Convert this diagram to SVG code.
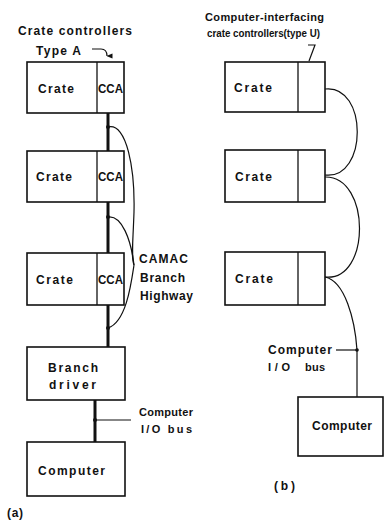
<svg xmlns="http://www.w3.org/2000/svg" width="384" height="521" viewBox="0 0 384 521">
<style>
  .box { fill: none; stroke: #111; stroke-width: 1.6; }
  .div { fill: none; stroke: #111; stroke-width: 1.3; }
  .bus { fill: none; stroke: #111; stroke-width: 3; }
  .wire { fill: none; stroke: #111; stroke-width: 1.2; }
  .dot { fill: #111; }
  text { font-family: "Liberation Sans", Arial, sans-serif; font-size: 12px; font-weight: bold; fill: #111; }
  .sm { font-size: 11px; }
</style>
<defs>
  <marker id="arr" viewBox="0 0 6 6" refX="3" refY="5.5" markerWidth="6" markerHeight="6" orient="auto-start-reverse" markerUnits="userSpaceOnUse">
    <path d="M0.5,0 L3,6 L5.5,0 Z" fill="#111"/>
  </marker>
</defs>
<rect width="384" height="521" fill="#fff"/>

<!-- (a) connectors -->
<g id="connectors-a">
  <line class="bus" x1="108" y1="113" x2="108" y2="151"/>
  <line class="bus" x1="108" y1="202" x2="108" y2="253"/>
  <line class="bus" x1="108" y1="305" x2="108" y2="347"/>
  <line class="bus" x1="95" y1="400" x2="95" y2="442"/>
  <circle class="dot" cx="108" cy="127" r="2"/>
  <circle class="dot" cx="108" cy="217" r="2"/>
  <circle class="dot" cx="108" cy="328" r="2"/>
  <circle class="dot" cx="95" cy="420" r="2"/>
  <path class="wire" d="M108,127 C127,122 135,170 134,212 C133,243 131,257 134,265"/>
  <path class="wire" d="M108,217 C122,215 131,240 134,265"/>
  <path class="wire" d="M134,265 C131,285 126,322 108,328"/>
  <line class="wire" x1="95" y1="420" x2="131" y2="420"/>
  <path class="wire" d="M92,49 L101,49 C105,49 107,52 107,56" marker-end="url(#arr)"/>
</g>

<!-- (a) nodes -->
<g id="crate-a1">
  <rect class="box" x="27" y="62" width="97" height="51"/>
  <line class="div" x1="97" y1="62" x2="97" y2="113"/>
  <text x="38" y="93" textLength="36" lengthAdjust="spacing">Crate</text>
  <text x="98" y="93" textLength="25" lengthAdjust="spacingAndGlyphs">CCA</text>
</g>
<g id="crate-a2">
  <rect class="box" x="27" y="151" width="97" height="51"/>
  <line class="div" x1="97" y1="151" x2="97" y2="202"/>
  <text x="36" y="181" textLength="36" lengthAdjust="spacing">Crate</text>
  <text x="98" y="181" textLength="25" lengthAdjust="spacingAndGlyphs">CCA</text>
</g>
<g id="crate-a3">
  <rect class="box" x="27" y="253" width="97" height="52"/>
  <line class="div" x1="97" y1="253" x2="97" y2="305"/>
  <text x="36" y="284" textLength="37" lengthAdjust="spacing">Crate</text>
  <text x="98" y="284" textLength="25" lengthAdjust="spacingAndGlyphs">CCA</text>
</g>
<g id="branch-driver">
  <rect class="box" x="27" y="347" width="98" height="53"/>
  <text x="48" y="372" textLength="50" lengthAdjust="spacing">Branch</text>
  <text x="49" y="389" textLength="47" lengthAdjust="spacing">driver</text>
</g>
<g id="computer-a">
  <rect class="box" x="27" y="442" width="98" height="54"/>
  <text x="38" y="475" textLength="67" lengthAdjust="spacing">Computer</text>
</g>

<!-- (a) labels -->
<g id="labels-a">
  <text x="18" y="35" textLength="114" lengthAdjust="spacing">Crate controllers</text>
  <text x="36" y="55" textLength="45" lengthAdjust="spacing">Type  A</text>
  <text x="139" y="263" textLength="49" lengthAdjust="spacing">CAMAC</text>
  <text x="140" y="282" textLength="45" lengthAdjust="spacing">Branch</text>
  <text x="140" y="300" textLength="53" lengthAdjust="spacing">Highway</text>
  <text class="sm" x="139" y="416" textLength="54" lengthAdjust="spacing">Computer</text>
  <text class="sm" x="141" y="433" textLength="51" lengthAdjust="spacing">I/O bus</text>
  <text x="7" y="517" textLength="16" lengthAdjust="spacing">(a)</text>
</g>

<!-- (b) connectors -->
<g id="connectors-b">
  <path class="wire" d="M325,89 C368,84 368,180 325,175"/>
  <path class="wire" d="M325,177 C371,176 371,282 325,277"/>
  <path class="wire" d="M325,277 C345,281 355,320 357,350 L357,397"/>
  <line class="wire" x1="336" y1="350" x2="357" y2="350"/>
  <circle class="dot" cx="357" cy="350" r="1.8"/>
  <path class="wire" d="M308,45 L315,45 L309,61"/>
</g>

<!-- (b) nodes -->
<g id="crate-b1">
  <rect class="box" x="225" y="62" width="100" height="50"/>
  <line class="div" x1="298" y1="62" x2="298" y2="112"/>
  <text x="234" y="92" textLength="38" lengthAdjust="spacing">Crate</text>
</g>
<g id="crate-b2">
  <rect class="box" x="225" y="150" width="100" height="52"/>
  <line class="div" x1="298" y1="150" x2="298" y2="202"/>
  <text x="235" y="181" textLength="37" lengthAdjust="spacing">Crate</text>
</g>
<g id="crate-b3">
  <rect class="box" x="225" y="252" width="100" height="53"/>
  <line class="div" x1="298" y1="252" x2="298" y2="305"/>
  <text x="235" y="283" textLength="38" lengthAdjust="spacing">Crate</text>
</g>
<g id="computer-b">
  <rect class="box" x="298" y="397" width="85" height="59"/>
  <text x="312" y="430" textLength="60" lengthAdjust="spacing">Computer</text>
</g>

<!-- (b) labels -->
<g id="labels-b">
  <text class="sm" x="205" y="21" textLength="119" lengthAdjust="spacing">Computer-interfacing</text>
  <text class="sm" x="207" y="37" textLength="113" lengthAdjust="spacingAndGlyphs">crate controllers(type U)</text>
  <text x="268" y="354" textLength="64" lengthAdjust="spacing">Computer</text>
  <text class="sm" x="268" y="371" textLength="22" lengthAdjust="spacing">I/O</text>
  <text class="sm" x="305" y="371" textLength="20" lengthAdjust="spacing">bus</text>
  <text x="274" y="490" textLength="21" lengthAdjust="spacing">(b)</text>
</g>
</svg>
